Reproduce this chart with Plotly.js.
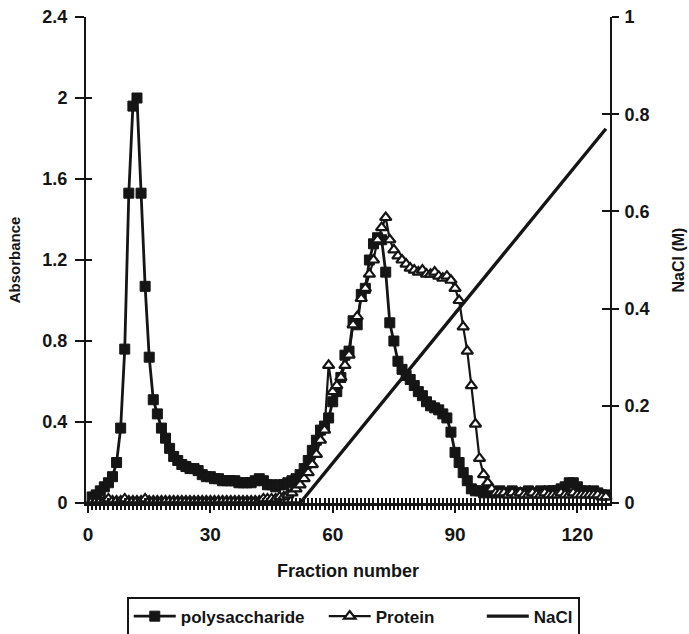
<!DOCTYPE html>
<html><head><meta charset="utf-8">
<script src="https://cdn.plot.ly/plotly-3.0.1.min.js"></script>
<style>html,body{margin:0;padding:0;background:#fff}#chart{width:689px;height:634px}</style>
</head><body><div id="chart"></div>
<script>
// Fraction numbers
const fractions = [1,2,3,4,5,6,7,8,9,10,11,12,13,14,15,16,17,18,19,20,
21,22,23,24,25,26,27,28,29,30,31,32,33,34,35,36,37,38,39,40,
41,42,43,44,45,46,47,48,49,50,51,52,53,54,55,56,57,58,59,60,
61,62,63,64,65,66,67,68,69,70,71,72,73,74,75,76,77,78,79,80,
81,82,83,84,85,86,87,88,89,90,91,92,93,94,95,96,97,98,99,100,
101,102,103,104,105,106,107,108,109,110,111,112,113,114,115,116,117,118,119,120,
121,122,123,124,125,126,127];

// Polysaccharide absorbance
const polysaccharide = [0.03,0.04,0.06,0.08,0.10,0.13,0.20,0.37,0.76,1.53,1.96,2.00,1.53,1.07,0.72,0.51,0.44,0.37,0.32,0.27,
0.23,0.21,0.19,0.18,0.17,0.17,0.16,0.14,0.13,0.13,0.12,0.12,0.11,0.11,0.11,0.11,0.10,0.10,0.10,0.10,
0.11,0.12,0.11,0.09,0.09,0.08,0.09,0.09,0.10,0.11,0.12,0.14,0.17,0.21,0.26,0.31,0.36,0.38,0.42,0.50,
0.55,0.62,0.73,0.75,0.90,0.88,1.03,1.06,1.20,1.28,1.31,1.30,1.14,0.89,0.80,0.70,0.66,0.63,0.61,0.58,
0.55,0.53,0.50,0.48,0.47,0.46,0.44,0.42,0.35,0.25,0.20,0.15,0.11,0.07,0.06,0.06,0.05,0.06,0.05,0.05,
0.06,0.05,0.05,0.06,0.05,0.05,0.05,0.06,0.05,0.05,0.06,0.05,0.06,0.06,0.06,0.07,0.08,0.10,0.10,0.08,
0.06,0.06,0.05,0.06,0.05,0.04,0.04];

// Protein absorbance
const protein = [0.01,0.01,0.01,0.01,0.02,0.01,0.01,0.01,0.02,0.01,0.01,0.01,0.01,0.02,0.01,0.01,0.01,0.01,0.01,0.01,
0.01,0.01,0.01,0.01,0.01,0.01,0.01,0.01,0.01,0.01,0.01,0.01,0.01,0.01,0.01,0.01,0.01,0.01,0.01,0.01,
0.01,0.01,0.02,0.02,0.02,0.02,0.03,0.03,0.04,0.05,0.07,0.09,0.12,0.15,0.19,0.24,0.31,0.36,0.68,0.55,
0.58,0.62,0.68,0.73,0.88,0.92,1.01,1.06,1.13,1.20,1.30,1.36,1.41,1.30,1.25,1.22,1.20,1.18,1.16,1.15,
1.14,1.15,1.13,1.13,1.14,1.12,1.11,1.12,1.10,1.06,1.00,0.87,0.75,0.58,0.39,0.22,0.14,0.10,0.07,0.05,
0.05,0.05,0.04,0.05,0.04,0.05,0.04,0.04,0.05,0.04,0.04,0.05,0.04,0.04,0.04,0.05,0.04,0.04,0.05,0.04,
0.04,0.04,0.04,0.04,0.04,0.03,0.03];

// NaCl gradient (M): break points of the linear gradient
const naclFraction = [0, 52, 127];
const naclConc = [0, 0, 0.77];

const seriesNames = ['polysaccharide', 'Protein', 'NaCl'];

const xTickVals = [0, 30, 60, 90, 120];
const xTickText = ['0', '30', '60', '90', '120'];
const absTicks = {dtick: 0.4, tick0: 0};
const naclTicks = {dtick: 0.2, tick0: 0};

const INK = '#151515';
const FAM = '"Liberation Sans", Arial, sans-serif';
const F = (s) => ({family: FAM, size: s, color: INK, weight: 700});
const NB = (n) => '\u00a0'.repeat(n);   // legend spacing only

const traces = [
  {x: fractions, y: polysaccharide, name: seriesNames[0] + NB(3), type: 'scatter', mode: 'lines+markers',
   line: {color: INK, width: 2.8}, marker: {symbol: 'square', size: 10, color: INK, line: {color: INK, width: 1}},
   xaxis: 'x', yaxis: 'y', cliponaxis: false},
  {x: fractions, y: protein, name: seriesNames[1] + NB(9), type: 'scatter', mode: 'lines+markers',
   line: {color: INK, width: 2.2}, marker: {symbol: 'triangle-up', size: 10, color: '#fff', line: {color: INK, width: 2.2}},
   xaxis: 'x', yaxis: 'y', cliponaxis: false},
  {x: naclFraction, y: naclConc, name: seriesNames[2], type: 'scatter', mode: 'lines',
   line: {color: INK, width: 3.4}, xaxis: 'x', yaxis: 'y2', cliponaxis: false},
  {x: [], y: [], xaxis: 'x2', yaxis: 'y', showlegend: false, hoverinfo: 'skip'},
  {x: [], y: [], xaxis: 'x3', yaxis: 'y', showlegend: false, hoverinfo: 'skip'},
  {x: [], y: [], xaxis: 'x', yaxis: 'y3', showlegend: false, hoverinfo: 'skip'},
  {x: [], y: [], xaxis: 'x', yaxis: 'y4', showlegend: false, hoverinfo: 'skip'}
];

const common = {showgrid: false, zeroline: false, tickcolor: INK, linecolor: INK, automargin: false};

const layout = {
  width: 689, height: 634,
  margin: {l: 86, r: 79, t: 17, b: 131, autoexpand: false},
  paper_bgcolor: '#fff', plot_bgcolor: '#fff',
  showlegend: true,
  legend: {orientation: 'h', xref: 'container', yref: 'container', x: 0.184, xanchor: 'left',
    y: 0.059, yanchor: 'top',
    bordercolor: INK, borderwidth: 2, bgcolor: '#fff', font: F(17), itemwidth: 42,
    traceorder: 'normal'},
  // main x axis: labels, major ticks
  xaxis: Object.assign({}, common, {range: [-0.5, 128], anchor: 'y',
    tickmode: 'array', tickvals: xTickVals, ticktext: xTickText,
    ticks: 'outside', ticklen: 7, tickwidth: 2, showline: true, linewidth: 2.5,
    tickfont: F(19), ticklabelstandoff: 6,
    title: {text: 'Fraction number', font: F(18), standoff: 20}}),
  // hatch below the axis: one tick per fraction
  xaxis2: Object.assign({}, common, {range: [-0.5, 128], overlaying: 'x', anchor: 'y', side: 'bottom',
    tickmode: 'array', tickvals: fractions, ticks: 'outside', ticklen: 6, tickwidth: 2,
    showline: false, showticklabels: false}),
  // hatch above the axis
  xaxis3: Object.assign({}, common, {range: [-0.5, 128], overlaying: 'x', anchor: 'y', side: 'bottom',
    tickmode: 'array', tickvals: fractions, ticks: 'inside', ticklen: 5, tickwidth: 2,
    showline: false, showticklabels: false}),
  yaxis: Object.assign({}, common, absTicks, {range: [0, 2.4], anchor: 'x',
    ticks: 'outside', ticklen: 9, tickwidth: 2, showline: true, linewidth: 2,
    tickfont: F(18), ticklabelstandoff: 4,
    title: {text: 'Absorbance', font: F(15), standoff: 18}}),
  yaxis3: Object.assign({}, common, absTicks, {range: [0, 2.4], overlaying: 'y', anchor: 'x', side: 'left',
    ticks: 'inside', ticklen: 6, tickwidth: 2, showline: false, showticklabels: false}),
  yaxis2: Object.assign({}, common, naclTicks, {range: [0, 1], overlaying: 'y', anchor: 'x', side: 'right',
    ticks: 'outside', ticklen: 7, tickwidth: 2, showline: true, linewidth: 2,
    tickfont: F(18), ticklabelstandoff: 2,
    title: {text: 'NaCl (M)', font: F(16), standoff: 24}}),
  yaxis4: Object.assign({}, common, naclTicks, {range: [0, 1], overlaying: 'y', anchor: 'x', side: 'right',
    ticks: 'inside', ticklen: 8, tickwidth: 2, showline: false, showticklabels: false})
};

Plotly.newPlot('chart', traces, layout, {displayModeBar: false, staticPlot: true});
</script>
</body></html>
